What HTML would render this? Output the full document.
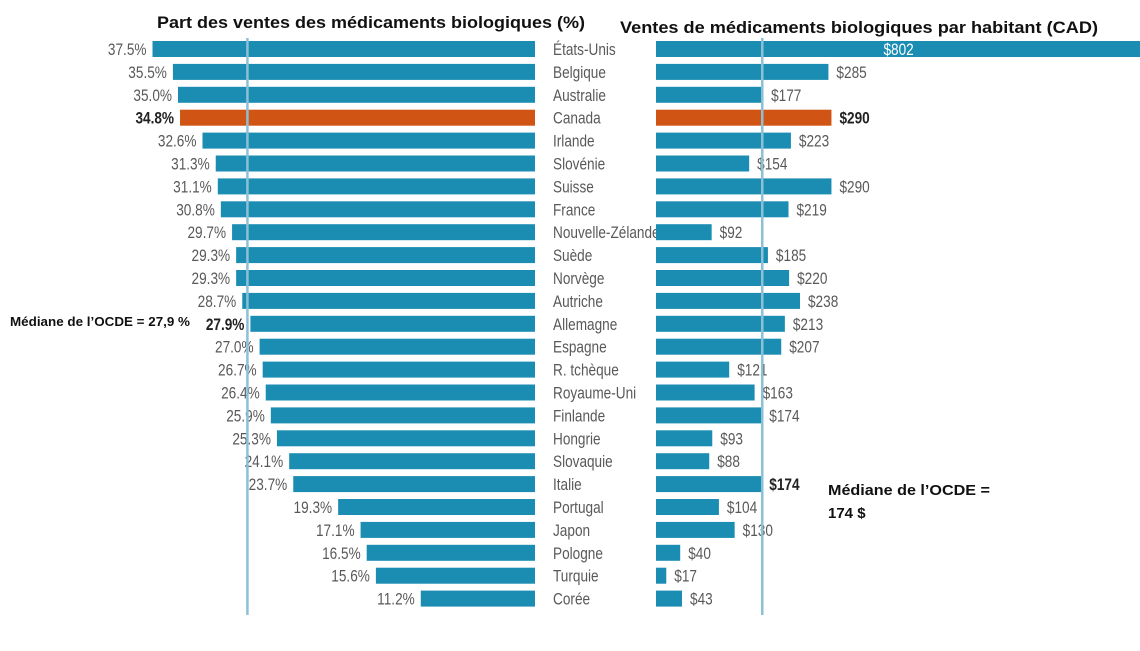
<!DOCTYPE html>
<html><head><meta charset="utf-8"><style>
body{margin:0;background:#fff;width:1140px;height:646px;overflow:hidden}
svg{font-family:"Liberation Sans",sans-serif}
</style></head><body>
<svg id="c" width="1140" height="646">
<text x="371" y="28" text-anchor="middle" font-weight="bold" font-size="17" fill="#111" textLength="428" lengthAdjust="spacingAndGlyphs">Part des ventes des médicaments biologiques (%)</text>
<text x="859" y="33" text-anchor="middle" font-weight="bold" font-size="17" fill="#111" textLength="478" lengthAdjust="spacingAndGlyphs">Ventes de médicaments biologiques par habitant (CAD)</text>
<g id="g"></g>
<text x="10" y="326" font-weight="bold" font-size="12.5" fill="#111" textLength="180" lengthAdjust="spacingAndGlyphs">Médiane de l’OCDE = 27,9 %</text>
<text x="828" y="495" font-weight="bold" font-size="15" fill="#111" textLength="162" lengthAdjust="spacingAndGlyphs">Médiane de l’OCDE =</text>
<text x="828" y="518" font-weight="bold" font-size="15" fill="#111">174 $</text>
</svg>
<script>
const countries=["États-Unis","Belgique","Australie","Canada","Irlande","Slovénie","Suisse","France","Nouvelle-Zélande","Suède","Norvège","Autriche","Allemagne","Espagne","R. tchèque","Royaume-Uni","Finlande","Hongrie","Slovaquie","Italie","Portugal","Japon","Pologne","Turquie","Corée"];
const shares=[37.5,35.5,35.0,34.8,32.6,31.3,31.1,30.8,29.7,29.3,29.3,28.7,27.9,27.0,26.7,26.4,25.9,25.3,24.1,23.7,19.3,17.1,16.5,15.6,11.2];
const perCapita=[802,285,177,290,223,154,290,219,92,185,220,238,213,207,121,163,174,93,88,174,104,130,40,17,43];
const shareMedian=27.9, capMedian=174;
const NS="http://www.w3.org/2000/svg", g=document.getElementById('g');
const xL=v=>535-v*10.2, xR=v=>656+v*0.605, yRow=i=>49+i*22.9;
function el(t,a){const e=document.createElementNS(NS,t);for(const k in a)e.setAttribute(k,a[k]);g.appendChild(e);return e;}
function narrow(e){const w=e.getComputedTextLength();e.setAttribute('textLength',(w*0.8).toFixed(1));e.setAttribute('lengthAdjust','spacingAndGlyphs');}
countries.forEach((c,i)=>{
 const y=yRow(i), can=c==="Canada";
 const col=can?"#d05514":"#1b8db3";
 const b=el('rect',{x:xL(shares[i]),y:y-8,width:535-xL(shares[i]),height:16,fill:col});
 
 
 const bold=can||i===12;
 const t=el('text',{x:xL(shares[i])-6,y:y+6,'text-anchor':'end','font-size':17,fill:bold?'#222':'#595959','font-weight':bold?'bold':'normal'});
 t.textContent=shares[i].toFixed(1)+'%';
 
 
 narrow(t);
 const n=el('text',{x:553,y:y+6,'font-size':17,fill:'#595959'});
 n.textContent=c;
 
 
 narrow(n);
});
countries.forEach((c,i)=>{
 const y=yRow(i), can=c==="Canada";
 const col=can?"#d05514":"#1b8db3";
 const r=el('rect',{x:656,y:y-8,width:xR(perCapita[i])-656,height:16,fill:col});
 
 
 const inside=xR(perCapita[i])>1100;
 const bold2=can||(c==="Italie");
 const v=el('text',{x:inside?(656+xR(perCapita[i]))/2:xR(perCapita[i])+8,y:y+6,'text-anchor':inside?'middle':'start','font-size':17,fill:inside?'#fff':(bold2?'#222':'#595959'),'font-weight':bold2?'bold':'normal'});
 v.textContent='$'+perCapita[i];
 
 
 narrow(v);
});
const m1=el('line',{x1:xL(shareMedian)-3,x2:xL(shareMedian)-3,y1:38,y2:615,stroke:'#8cc0d6','stroke-width':2.5});


const m2=el('line',{x1:xR(capMedian)+1,x2:xR(capMedian)+1,y1:38,y2:615,stroke:'#8cc0d6','stroke-width':2.5});


</script>
</body></html>
